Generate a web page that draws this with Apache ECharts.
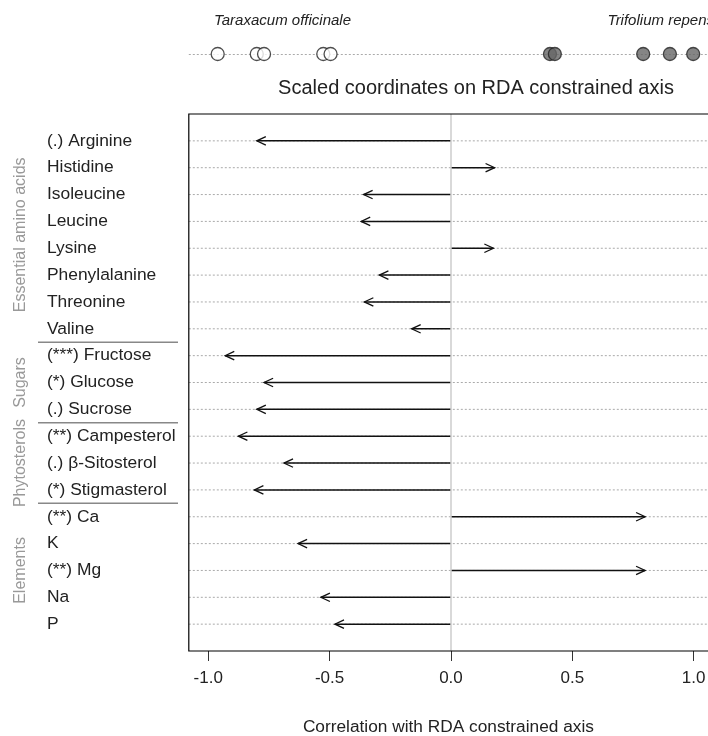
<!DOCTYPE html>
<html>
<head>
<meta charset="utf-8">
<script src="https://cdn.jsdelivr.net/npm/echarts@6/dist/echarts.min.js"></script>
<style>
html,body{margin:0;padding:0;background:#fff;}
#chart{width:708px;height:736px;}
</style>
</head>
<body>
<div id="chart"></div>
<script>
const rows = ['(.) Arginine','Histidine','Isoleucine','Leucine','Lysine','Phenylalanine','Threonine','Valine',
  '(***) Fructose','(*) Glucose','(.) Sucrose','(**) Campesterol','(.) β-Sitosterol','(*) Stigmasterol',
  '(**) Ca','K','(**) Mg','Na','P'];
const correlations = [-0.80, 0.18, -0.36, -0.37, 0.175, -0.295, -0.357, -0.162,
  -0.93, -0.77, -0.80, -0.876, -0.688, -0.81,
  0.80, -0.63, 0.80, -0.536, -0.478];
const taraxacumScores = [-0.961, -0.80, -0.77, -0.526, -0.496];
const trifoliumScores = [0.408, 0.428, 0.792, 0.902, 0.998];
const tickValues = [-1, -0.5, 0, 0.5, 1];
const groupNames = ['Essential amino acids', 'Sugars', 'Phytosterols', 'Elements'];
const groupFirstRow = [1, 9, 12, 15];
const groupLastRow = [8, 11, 14, 19];

const FONT = '"Liberation Sans", Arial, sans-serif';
const TXT = '#222';
const X_MIN = -1.08, X_MAX = 1.059;
const GL = 188.8, GR = 0, GT = 114, GH = 537;

const chart = echarts.init(document.getElementById('chart'), null, {renderer: 'canvas'});

const arrowData = correlations.map((v, i) => [v, i + 1]);

const option = {
  animation: false,
  backgroundColor: '#fff',
  textStyle: {fontFamily: FONT},
  grid: [
    {left: GL, right: GR, top: GT, height: GH, show: false, outerBoundsMode: 'none', containLabel: false},
    {left: GL, right: GR, top: 40, height: 28, show: false, outerBoundsMode: 'none', containLabel: false}
  ],
  xAxis: [
    {
      gridIndex: 0, type: 'value', min: X_MIN, max: X_MAX, position: 'bottom',
      axisLine: {show: false, onZero: false},
      splitLine: {show: false},
      axisTick: {show: true, inside: false, length: 10, lineStyle: {color: '#333', width: 1}, customValues: tickValues},
      axisLabel: {show: true, customValues: tickValues, margin: 19, color: TXT, fontSize: 17, fontFamily: FONT,
        formatter: v => v.toFixed(1)},
      name: 'Correlation with RDA constrained axis', nameLocation: 'middle', nameGap: 68,
      nameTextStyle: {color: TXT, fontSize: 17.3, fontFamily: FONT}
    },
    {gridIndex: 1, type: 'value', min: X_MIN, max: X_MAX, show: false}
  ],
  yAxis: [
    {
      gridIndex: 0, type: 'value', min: 0, max: 20, interval: 1, inverse: true,
      axisLine: {show: false, onZero: false}, axisTick: {show: false}, splitLine: {show: false},
      axisLabel: {show: true, align: 'left', margin: GL - 47, color: TXT, fontSize: 17.4, fontFamily: FONT,
        formatter: v => rows[v - 1] || ''}
    },
    {
      gridIndex: 1, type: 'value', min: 0, max: 2, interval: 1,
      axisLine: {show: false}, axisTick: {show: false}, axisLabel: {show: false},
      splitLine: {show: true, lineStyle: {color: ['rgba(0,0,0,0)', '#aaa'], width: 1, type: [2, 2]}}
    }
  ],
  series: [
    {
      type: 'custom',
      xAxisIndex: 0, yAxisIndex: 0,
      silent: true,
      z: 3,
      data: arrowData,
      encode: {x: 0, y: 1},
      clip: false,
      renderItem: function (params, api) {
        const v = api.value(0), r = api.value(1);
        const cs = params.coordSys;
        const s = api.coord([0, r]);
        const e = api.coord([v, r]);
        const dir = v >= 0 ? 1 : -1;
        const L = 10, ang = 25 * Math.PI / 180;
        const hx = e[0] - dir * L * Math.cos(ang), hy = L * Math.sin(ang);
        return {
          type: 'group',
          children: [
            {type: 'line', shape: {x1: cs.x, y1: s[1], x2: cs.x + cs.width, y2: s[1]},
              style: {stroke: '#aaa', lineWidth: 1, lineDash: [2, 2]}},
            {type: 'line', shape: {x1: s[0], y1: s[1], x2: e[0], y2: e[1]},
              style: {stroke: '#111', lineWidth: 1.5}},
            {type: 'polyline', shape: {points: [[hx, e[1] - hy], [e[0], e[1]], [hx, e[1] + hy]]},
              style: {stroke: '#111', lineWidth: 1.3, fill: null}}
          ]
        };
      },
      markLine: {
        silent: true, symbol: ['none', 'none'], label: {show: false},
        lineStyle: {color: '#ccc', width: 1.5, type: 'solid'},
        data: [{xAxis: 0}]
      }
    },
    {
      type: 'scatter', xAxisIndex: 1, yAxisIndex: 1, silent: true, z: 3,
      symbol: 'circle', symbolSize: 13,
      itemStyle: {color: '#fff', borderColor: '#222', borderWidth: 1.3},
      data: taraxacumScores.map(v => [v, 1])
    },
    {
      type: 'scatter', xAxisIndex: 1, yAxisIndex: 1, silent: true, z: 4,
      symbol: 'circle', symbolSize: 13,
      itemStyle: {color: '#666', borderColor: '#222', borderWidth: 1.3},
      data: trifoliumScores.map(v => [v, 1])
    }
  ]
};
chart.setOption(option);

// annotations positioned through the axis scales
const graphics = [];
const boxTop = chart.convertToPixel({yAxisIndex: 0}, 0);
const boxBot = chart.convertToPixel({yAxisIndex: 0}, 20);
const boxLeft = chart.convertToPixel({xAxisIndex: 0}, X_MIN);
// plot box (right side runs off the canvas as in the reference)
graphics.push({type: 'rect', z: 10, shape: {x: boxLeft, y: boxTop, width: 600, height: boxBot - boxTop},
  style: {stroke: '#000', lineWidth: 1.2, fill: null}, silent: true});
for (let g = 0; g < groupNames.length; g++) {
  const yTop = chart.convertToPixel({yAxisIndex: 0}, groupFirstRow[g] - 0.5);
  const yBot = chart.convertToPixel({yAxisIndex: 0}, groupLastRow[g] + 0.5);
  const yc = (yTop + yBot) / 2;
  graphics.push({
    type: 'text', x: 21, y: yc, rotation: Math.PI / 2,
    style: {text: groupNames[g], fill: '#999', font: '16px ' + FONT, align: 'center', verticalAlign: 'middle'}
  });
  if (g > 0) {
    graphics.push({type: 'line', shape: {x1: 38, y1: yTop, x2: 178, y2: yTop},
      style: {stroke: '#888', lineWidth: 1.5}});
  }
}
graphics.push({type: 'text', x: 351, y: 21,
  style: {text: 'Taraxacum officinale', fill: TXT, font: 'italic 15px ' + FONT, align: 'right', verticalAlign: 'middle'}});
graphics.push({type: 'text', x: 714, y: 21,
  style: {text: 'Trifolium repens', fill: TXT, font: 'italic 15px ' + FONT, align: 'right', verticalAlign: 'middle'}});
graphics.push({type: 'text', x: 476, y: 88,
  style: {text: 'Scaled coordinates on RDA constrained axis', fill: TXT, font: '20px ' + FONT, align: 'center', verticalAlign: 'middle'}});
chart.setOption({graphic: graphics});
</script>
</body>
</html>
